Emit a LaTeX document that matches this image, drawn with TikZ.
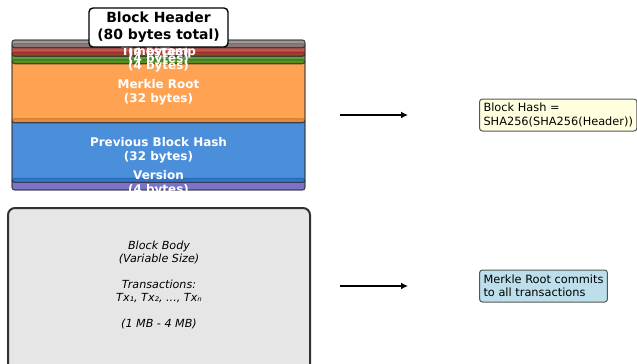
\documentclass[tikz,border=0pt]{standalone}
\usepackage{fontspec}
\setmainfont{DejaVu Sans}
\usetikzlibrary{arrows.meta}

% field colours of the header stack
\definecolor{cNonce}{RGB}{128,128,128}
\definecolor{cBits}{RGB}{180,40,35}
\definecolor{cTime}{RGB}{50,135,20}
\definecolor{cMerkle}{RGB}{255,140,40}
\definecolor{cPrev}{RGB}{30,115,210}
\definecolor{cVersion}{RGB}{90,80,190}
\definecolor{cEdge}{RGB}{45,45,45}
\definecolor{cBody}{RGB}{230,230,230}
\definecolor{cBodyEdge}{RGB}{50,50,50}
\definecolor{cNoteYellow}{RGB}{255,255,224}
\definecolor{cNoteBlue}{RGB}{188,223,235}
\definecolor{cNoteEdge}{RGB}{85,85,85}

\begin{document}
\begin{tikzpicture}[x=1bp,y=-1bp,
  layer/.style={draw=cEdge, draw opacity=0.8, line width=1.1bp,
                fill opacity=0.8, rounded corners=2.5bp},
  fieldlabel/.style={text=white, align=center, inner sep=0pt,
                     font=\bfseries\fontsize{12}{14}\selectfont},
  titlebox/.style={draw=black, line width=1.4bp, fill=white,
                   rounded corners=4bp, align=center, inner sep=0pt,
                   minimum width=139bp, minimum height=39bp,
                   font=\bfseries\fontsize{14}{17}\selectfont},
  bodybox/.style={draw=cBodyEdge, line width=2bp, fill=cBody,
                  rounded corners=7bp},
  bodytext/.style={align=center, inner sep=0pt,
                   font=\itshape\fontsize{11.2}{13}\selectfont},
  note/.style={draw=cNoteEdge, line width=1bp, rounded corners=3bp,
               align=left, anchor=west, inner xsep=4bp,
               minimum height=32bp,
               font=\fontsize{11.4}{13.5}\selectfont},
  flow/.style={line width=1.8bp, -{Latex[length=7bp,width=7bp]}}
]
\useasboundingbox (0,0) rectangle (637,363);

% header fields, drawn from the bottom up
\path[layer, fill=cVersion] (12,178.3) rectangle (305,190);
\path[layer, fill=cPrev]    (12,118.7) rectangle (305,182.3);
\path[layer, fill=cMerkle]  (12,59.7)  rectangle (305,122.7);
\path[layer, fill=cTime]    (12,52.2)  rectangle (305,63.7);
\path[layer, fill=cBits]    (12,43.7)  rectangle (305,56.2);
\path[layer, fill=cNonce]   (12,40)    rectangle (305,47.7);

\node[fieldlabel] (fVersion) at (158.5,183)   {Version\\(4 bytes)};
\node[fieldlabel] (fPrev)    at (158.5,150.5) {Previous Block Hash\\(32 bytes)};
\node[fieldlabel] (fMerkle)  at (158.5,92.5)  {Merkle Root\\(32 bytes)};
\node[fieldlabel] (fTime)    at (158.5,59.5)  {Timestamp\\(4 bytes)};
\node[fieldlabel] (fBits)    at (158.5,52)    {Bits\\(4 bytes)};
\node[fieldlabel] (fNonce)   at (158.5,45)    {Nonce\\(4 bytes)};

\node[titlebox] (title) at (158.5,27.5) {Block Header\\(80 bytes total)};

% block body
\path[bodybox] (8,208) rectangle (310,375);
\node[bodytext] (body) at (159,285)
  {Block Body\\(Variable Size)\\[13bp]Transactions:\\Tx₁, Tx₂, ..., Txₙ\\[13bp](1 MB - 4 MB)};

% notes on the right
\node[note, fill=cNoteYellow] (hashnote) at (479,115)
  {Block Hash =\\SHA256(SHA256(Header))};
\node[note, fill=cNoteBlue] (merklenote) at (479,286)
  {Merkle Root commits\\to all transactions};

% arrows
\coordinate (h0) at (340,115);
\coordinate (h1) at (408,115);
\coordinate (b0) at (340,286);
\coordinate (b1) at (408,286);
\draw[flow] (h0) -- (h1);
\draw[flow] (b0) -- (b1);
\end{tikzpicture}
\end{document}
